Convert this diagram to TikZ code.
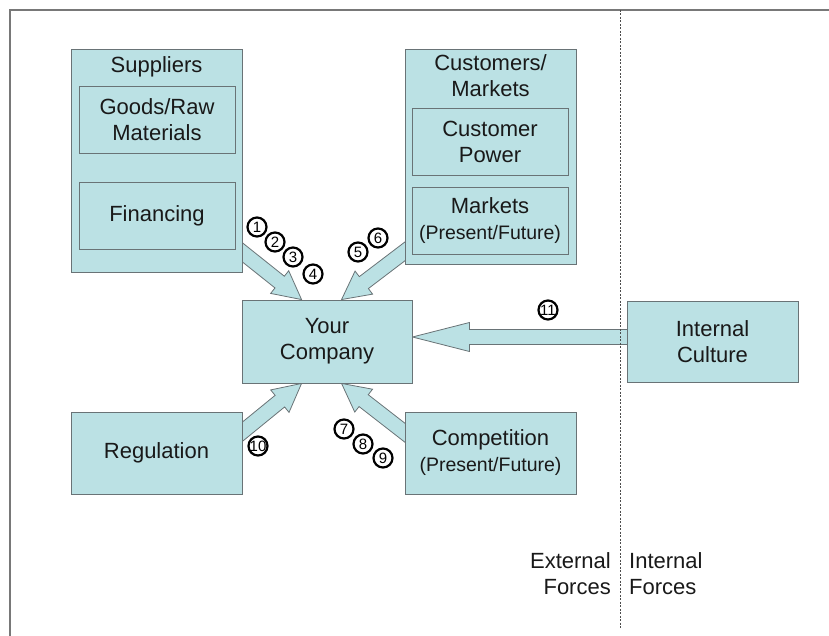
\documentclass[tikz,border=0pt]{standalone}
\usepackage{fontspec}
\setmainfont{Liberation Sans}
\usetikzlibrary{calc,backgrounds}
\definecolor{boxfill}{RGB}{187,225,228}
\definecolor{boxline}{RGB}{105,115,118}
\definecolor{ink}{RGB}{25,25,25}
\definecolor{framegray}{RGB}{120,120,120}
\tikzset{
  box/.style={draw=boxline, fill=boxfill, line width=0.9pt, rectangle, inner sep=0pt,
    text=ink, align=center, font=\fontsize{22}{26}\selectfont},
  txt/.style={inner sep=0pt, text=ink, align=center, font=\fontsize{22}{26}\selectfont},
  fatbody/.style={draw=boxline, fill=boxfill, line width=0.8pt, line join=miter},
  num/.style={circle, draw=black, fill=white, line width=2.2pt, minimum size=19pt,
    inner sep=0pt, text=black, font=\fontsize{15}{15}\selectfont},
  divider/.style={draw=black!70, line width=1pt, dash pattern=on 2pt off 1.5pt},
}
% block arrow: tail, tip, head length
\newcommand\fatarrow[3]{%
  \coordinate (fa-b) at ($(#2)!#3!(#1)$);
  \draw[fatbody] ($(#1)!7.5pt!90:(#2)$) -- ($(fa-b)!7.5pt!90:(#2)$)
    -- ($(fa-b)!14.5pt!90:(#2)$) -- (#2) -- ($(fa-b)!14.5pt!-90:(#2)$)
    -- ($(fa-b)!7.5pt!-90:(#2)$) -- ($(#1)!7.5pt!-90:(#2)$) -- cycle;
}
\newcommand\subline[1]{{\fontsize{19.5}{22}\selectfont #1}}
\begin{document}
\begin{tikzpicture}[x=1pt,y=-1pt]
\useasboundingbox (0,0) rectangle (829,636);
% frame
\draw[framegray, line width=1.2pt] (829,10) -- (10,10) -- (10,636);

% suppliers
\node[box, minimum width=171pt, minimum height=223pt] (sup) at (156.5,160.5) {};
\node[txt] (supt) at (156.5,67) {Suppliers};
\node[box, minimum width=156pt, minimum height=67pt] (goods) at (157,119.5) {Goods/Raw\\Materials};
\node[box, minimum width=156pt, minimum height=67pt] (fin) at (157,215.5) {Financing};

% customers
\node[box, minimum width=171pt, minimum height=215pt] (cus) at (490.5,156.5) {};
\node[txt] (cust) at (490.5,76) {Customers/\\Markets};
\node[box, minimum width=156pt, minimum height=67pt] (cpow) at (490,141.5) {Customer\\Power};
\node[box, minimum width=156pt, minimum height=67pt] (mkt) at (490,220.5) {Markets\\\subline{(Present/Future)}};

% centre and others
\node[box, minimum width=170pt, minimum height=83pt] (you) at (327,341.5) {Your\\Company};
\node[box, minimum width=171pt, minimum height=82pt] (reg) at (156.5,453) {Regulation};
\node[box, minimum width=171pt, minimum height=82pt] (cmp) at (490.5,453) {Competition\\\subline{(Present/Future)}};
\node[box, minimum width=171pt, minimum height=81pt] (cul) at (712.5,341.5) {Internal\\Culture};

% forces acting on the company
\begin{scope}[on background layer]
  \coordinate (tl1) at ($(sup.south east)+(-20,-36)$);
  \coordinate (tp1) at ($(you.north west)+(60,0)$);
  \coordinate (tl2) at ($(cus.south west)+(20,-28)$);
  \coordinate (tp2) at ($(you.north west)+(100,0)$);
  \coordinate (tl3) at ($(reg.east)+(-20,-5)$);
  \coordinate (tp3) at ($(you.south west)+(60,0)$);
  \coordinate (tl4) at ($(cmp.west)+(20,-5)$);
  \coordinate (tp4) at ($(you.south west)+(100,0)$);
  \coordinate (tl5) at ($(cul.west)+(15,-4.5)$);
  \coordinate (tp5) at ($(you.east)+(0,-4.5)$);
  \fatarrow{tl1}{tp1}{28pt}
  \fatarrow{tl2}{tp2}{28pt}
  \fatarrow{tl3}{tp3}{28pt}
  \fatarrow{tl4}{tp4}{28pt}
  \fatarrow{tl5}{tp5}{57pt}
\end{scope}

% external / internal divider
\coordinate (dtop) at (620,10);
\coordinate (dbot) at (620,628);
\draw[divider] (dtop) -- (dbot);
\node[txt, anchor=east, align=right] (ext) at (611,574) {External\\Forces};
\node[txt, anchor=west, align=left] (int) at (629,574) {Internal\\Forces};

% numbered markers
\node[num] (n1) at (257,227) {1};
\node[num] (n2) at (275,242) {2};
\node[num] (n3) at (293,257) {3};
\node[num] (n4) at (313,274) {4};
\node[num] (n5) at (358,252) {5};
\node[num] (n6) at (378,238) {6};
\node[num] (n7) at (344,429) {7};
\node[num] (n8) at (363,444) {8};
\node[num] (n9) at (383,458) {9};
\node[num] (n10) at (258,446) {\makebox[0pt]{10}};
\node[num] (n11) at (548,310) {\makebox[0pt]{11}};
\end{tikzpicture}
\end{document}
